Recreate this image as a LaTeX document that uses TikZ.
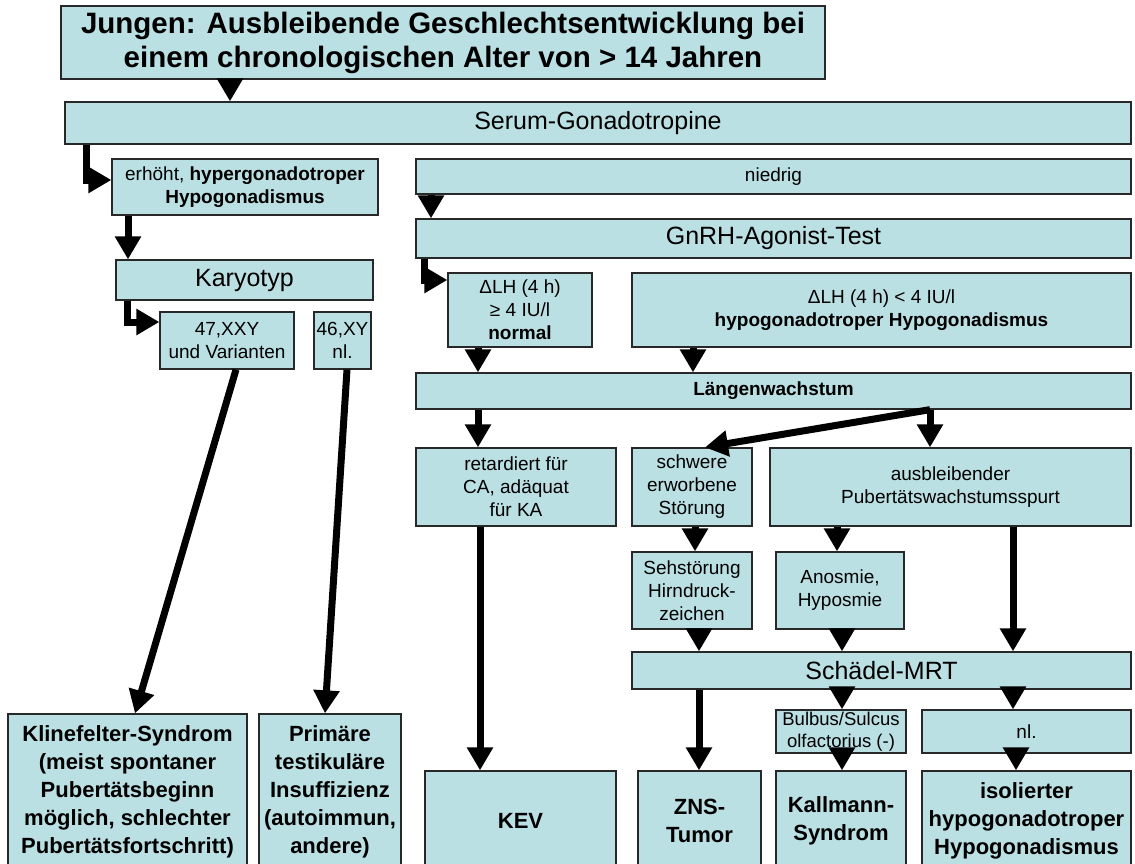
\documentclass[tikz,border=0pt]{standalone}
\usepackage{fontspec}
\setmainfont{Liberation Sans}
\usetikzlibrary{arrows.meta}
\definecolor{boxfill}{RGB}{187,224,227}
\definecolor{boxline}{RGB}{40,40,40}
\begin{document}
\begin{tikzpicture}[x=1pt,y=-1pt,
  box/.style={draw=boxline, line width=1.3pt, fill=boxfill, inner sep=0pt, align=center, anchor=center},
  sm/.style={font=\fontsize{19}{23}\selectfont},
  lg/.style={font=\fontsize{25}{30}\selectfont},
  bt/.style={font=\fontsize{22}{28}\selectfont\bfseries},
  arr/.style={draw=black, line width=7pt, -{Triangle[width=25pt,length=23pt]}}
]
\useasboundingbox (0,0) rectangle (1135,864);

% boxes
\node[box, minimum width=764pt, minimum height=73pt, font=\fontsize{29.5}{34}\selectfont\bfseries] (title) at (443,42.5)
  {Jungen: Ausbleibende Geschlechtsentwicklung bei\\einem chronologischen Alter von > 14 Jahren};
\node[box, lg, minimum width=1066pt, minimum height=42pt] (serum) at (598,123) {Serum-Gonadotropine};
\node[box, sm, minimum width=715pt, minimum height=35pt] (nied) at (773.5,176.5) {niedrig};
\node[box, sm, minimum width=266pt, minimum height=56pt] (erh) at (245,187) {erhöht, \textbf{hypergonadotroper}\\\textbf{Hypogonadismus}};
\node[box, lg, minimum width=715pt, minimum height=39pt] (gnrh) at (773.5,238.5) {GnRH-Agonist-Test};
\node[box, lg, minimum width=257pt, minimum height=40pt] (kary) at (244.5,280) {Karyotyp};
\node[box, sm, minimum width=144pt, minimum height=74pt] (lhn) at (520,310) {ΔLH (4 h)\\≥ 4 IU/l\\\textbf{normal}};
\node[box, sm, minimum width=499pt, minimum height=74pt] (lhl) at (881.5,310) {ΔLH (4 h) < 4 IU/l\\\textbf{hypogonadotroper Hypogonadismus}};
\node[box, sm, minimum width=134pt, minimum height=57pt] (xxy) at (227,340.5) {47,XXY\\und Varianten};
\node[box, sm, minimum width=57pt, minimum height=57pt] (xy) at (342.5,340.5) {46,XY\\nl.};
\node[box, sm, minimum width=715pt, minimum height=36pt] (laeng) at (773.5,391) {\textbf{Längenwachstum}};
\node[box, sm, minimum width=200pt, minimum height=78pt] (ret) at (516,487) {retardiert für\\CA, adäquat\\für KA};
\node[box, sm, minimum width=120pt, minimum height=78pt] (schw) at (692,487) {schwere\\erworbene\\Störung};
\node[box, sm, minimum width=361pt, minimum height=78pt] (ausb) at (950.5,487) {ausbleibender\\Pubertätswachstumsspurt};
\node[box, sm, minimum width=120pt, minimum height=77pt] (seh) at (692,590.5) {Sehstörung\\Hirndruck-\\zeichen};
\node[box, sm, minimum width=128pt, minimum height=77pt] (anos) at (840,590.5) {Anosmie,\\Hyposmie};
\node[box, lg, minimum width=499pt, minimum height=37pt] (mrt) at (881.5,670.5) {Schädel-MRT};
\node[box, font=\fontsize{18.5}{22}\selectfont, minimum width=130pt, minimum height=43pt] (bulb) at (841,731.5) {Bulbus/Sulcus\\olfactorius (-)};
\node[box, sm, minimum width=209pt, minimum height=43pt] (nl) at (1026.5,731.5) {nl.};
\node[box, bt, minimum width=239pt, minimum height=156pt] (klin) at (127.5,792) {Klinefelter-Syndrom\\(meist spontaner\\Pubertätsbeginn\\möglich, schlechter\\Pubertätsfortschritt)};
\node[box, bt, minimum width=142pt, minimum height=156pt] (prim) at (330,792) {Primäre\\testikuläre\\Insuffizienz\\(autoimmun,\\andere)};
\node[box, bt, minimum width=191pt, minimum height=99pt] (kev) at (520.5,820.5) {KEV};
\node[box, bt, minimum width=123pt, minimum height=99pt] (zns) at (699.5,820.5) {ZNS-\\Tumor};
\node[box, bt, minimum width=130pt, minimum height=99pt] (kall) at (841,820.5) {Kallmann-\\Syndrom};
\node[box, bt, minimum width=209pt, minimum height=99pt] (iso) at (1026.5,820.5) {isolierter\\hypogonadotroper\\Hypogonadismus};

% x positions of connectors
\coordinate (x86) at (86,0);
\coordinate (x127) at (127,0);
\coordinate (x128) at (128,0);
\coordinate (x135) at (135,0);
\coordinate (x230) at (230,0);
\coordinate (x236) at (236,0);
\coordinate (x325) at (325,0);
\coordinate (x347) at (347,0);
\coordinate (x424) at (424,0);
\coordinate (x431) at (431,0);
\coordinate (x478) at (478,0);
\coordinate (x480) at (480,0);
\coordinate (x693) at (693,0);
\coordinate (x695) at (695,0);
\coordinate (x699) at (699,0);
\coordinate (x705) at (705,0);
\coordinate (x837) at (837,0);
\coordinate (x842) at (842,0);
\coordinate (x930) at (930,0);
\coordinate (x1013) at (1013,0);
\coordinate (x1016) at (1016,0);

% connectors
\draw[arr] (title.south -| x230) -- (serum.north -| x230);
\draw[arr] (serum.south -| x86) |- ([yshift=7pt]erh.west);
\draw[arr] (erh.south -| x128) -- (kary.north -| x128);
\draw[arr] (kary.south -| x127) |- ([yshift=18.5pt]xxy.west);
\draw[arr] (xxy.south -| x236) -- (klin.north -| x135);
\draw[arr] (xy.south -| x347) -- (prim.north -| x325);
\draw[arr] (nied.south -| x431) -- (gnrh.north -| x431);
\draw[arr] (gnrh.south -| x424) |- ([yshift=30pt]lhn.west);
\draw[arr] (lhn.south -| x478) -- (laeng.north -| x478);
\draw[arr] (lhl.south -| x693) -- (laeng.north -| x693);
\draw[arr] (laeng.south -| x478) -- (ret.north -| x478);
\draw[arr] (laeng.south -| x930) -- (schw.north -| x705);
\draw[arr] (laeng.south -| x930) -- (ausb.north -| x930);
\draw[arr] (schw.south -| x695) -- (seh.north -| x695);
\draw[arr] (ausb.south -| x837) -- (anos.north -| x837);
\draw[arr] (ausb.south -| x1013) -- (mrt.north -| x1013);
\draw[arr] (seh.south -| x699) -- (mrt.north -| x699);
\draw[arr] (anos.south -| x842) -- (mrt.north -| x842);
\draw[arr] (ret.south -| x480) -- (kev.north -| x480);
\draw[arr] (mrt.south -| x699) -- (zns.north -| x699);
\draw[arr] (mrt.south -| x842) -- (bulb.north -| x842);
\draw[arr] (mrt.south -| x1013) -- (nl.north -| x1013);
\draw[arr] (bulb.south -| x842) -- (kall.north -| x842);
\draw[arr] (nl.south -| x1016) -- (iso.north -| x1016);
\end{tikzpicture}
\end{document}
